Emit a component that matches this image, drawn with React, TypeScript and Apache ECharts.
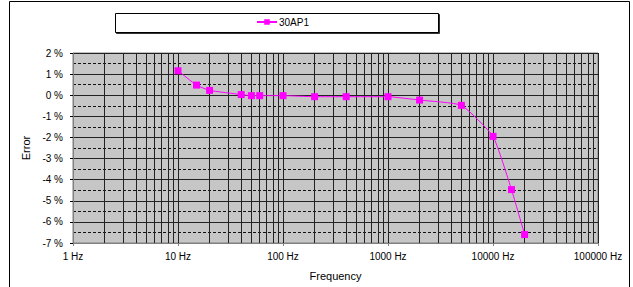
import React, { useEffect, useRef } from "react";
import * as echarts from "echarts";

const seriesName = "30AP1";
const frequencies = [10, 15, 20, 40, 50, 60, 100, 200, 400, 1000, 2000, 5000, 10000, 15000, 20000];
const errors = [1.16, 0.48, 0.23, 0.03, -0.02, -0.02, -0.02, -0.07, -0.07, -0.07, -0.23, -0.48, -1.95, -4.47, -6.6];
const minorFreqs = [
  2, 3, 4, 5, 6, 7, 8, 9,
  20, 30, 40, 50, 60, 70, 80, 90,
  200, 300, 400, 500, 600, 700, 800, 900,
  2000, 3000, 4000, 5000, 6000, 7000, 8000, 9000,
  20000, 30000, 40000, 50000, 60000, 70000, 80000, 90000,
];
const xMin = 1;
const xMax = 100000;
const yMin = -7;
const yMax = 2;

const FONT = "Liberation Sans, Arial, sans-serif";

export default function App() {
  const ref = useRef<HTMLDivElement>(null);
  useEffect(() => {
    document.body.style.margin = "0";
    const chart = echarts.init(ref.current!, null, { renderer: "svg" });
    chart.setOption({
      animation: false,
      backgroundColor: "#ffffff",
      textStyle: { fontFamily: FONT },
      graphic: [
        {
          type: "rect",
          z: 0,
          shape: { x: 9.5, y: 1.5, width: 620, height: 320 },
          style: { fill: "none", stroke: "#000", lineWidth: 1 },
        },
        {
          type: "rect",
          z: 0,
          shape: { x: 115.5, y: 13.5, width: 323, height: 19 },
          style: {
            fill: "#fff",
            stroke: "#000",
            lineWidth: 1,
            shadowColor: "rgba(0,0,0,0.8)",
            shadowOffsetX: 1,
            shadowOffsetY: 1,
            shadowBlur: 0,
          },
        },
      ],
      legend: {
        data: [seriesName],
        left: 256,
        top: 17,
        itemWidth: 20,
        itemHeight: 7,
        itemGap: 2,
        padding: 0,
        z: 10,
        textStyle: { fontSize: 10, fontFamily: FONT, color: "#000", padding: [0, 0, 0, -3] },
      },
      grid: {
        left: 73,
        right: 35,
        top: 53,
        bottom: 44,
        show: true,
        backgroundColor: "#c6c6c6",
        borderColor: "#808080",
        borderWidth: 1,
      },
      xAxis: {
        type: "log",
        logBase: 10,
        min: xMin,
        max: xMax,
        name: "Frequency",
        nameLocation: "middle",
        nameGap: 27,
        nameTextStyle: { fontSize: 11, fontFamily: FONT, color: "#000" },
        axisLine: { show: true, onZero: false, lineStyle: { color: "#808080", width: 1 } },
        axisTick: { show: true, length: 3, lineStyle: { color: "#808080" } },
        axisLabel: {
          fontSize: 10,
          fontFamily: FONT,
          color: "#000",
          margin: 8,
          formatter: (v: number) => `${v} Hz`,
        },
        splitLine: { show: true, lineStyle: { color: "#222", width: 1 } },
      },
      yAxis: {
        type: "value",
        min: yMin,
        max: yMax,
        interval: 1,
        name: "Error",
        nameLocation: "middle",
        nameGap: 37,
        nameTextStyle: { fontSize: 11, fontFamily: FONT, color: "#000" },
        axisLine: { show: true, lineStyle: { color: "#808080", width: 1 } },
        axisTick: { show: true, length: 3, lineStyle: { color: "#000" } },
        axisLabel: {
          fontSize: 10,
          fontFamily: FONT,
          color: "#000",
          margin: 10,
          formatter: (v: number) => `${v} %`,
        },
        splitLine: { show: true, lineStyle: { color: "#222", width: 1 } },
        minorTick: { show: false, splitNumber: 2 },
        minorSplitLine: { show: true, lineStyle: { color: "#111", width: 1, type: [3, 2] } },
      },
      series: [
        {
          name: "minor",
          type: "line",
          data: [],
          z: 1,
          silent: true,
          markLine: {
            silent: true,
            symbol: "none",
            label: { show: false },
            animation: false,
            lineStyle: { color: "#222", width: 1, type: "solid" },
            data: minorFreqs.map((f) => ({ xAxis: f })),
          },
        },
        {
          name: seriesName,
          type: "line",
          z: 5,
          data: frequencies.map((f, i) => [f, errors[i]]),
          symbol: "rect",
          symbolSize: 7,
          smooth: 0.15,
          itemStyle: { color: "#ff00ff" },
          lineStyle: { color: "#ff00ff", width: 1 },
        },
      ],
    });
    return () => chart.dispose();
  }, []);
  return <div ref={ref} style={{ width: 633, height: 287 }} />;
}
